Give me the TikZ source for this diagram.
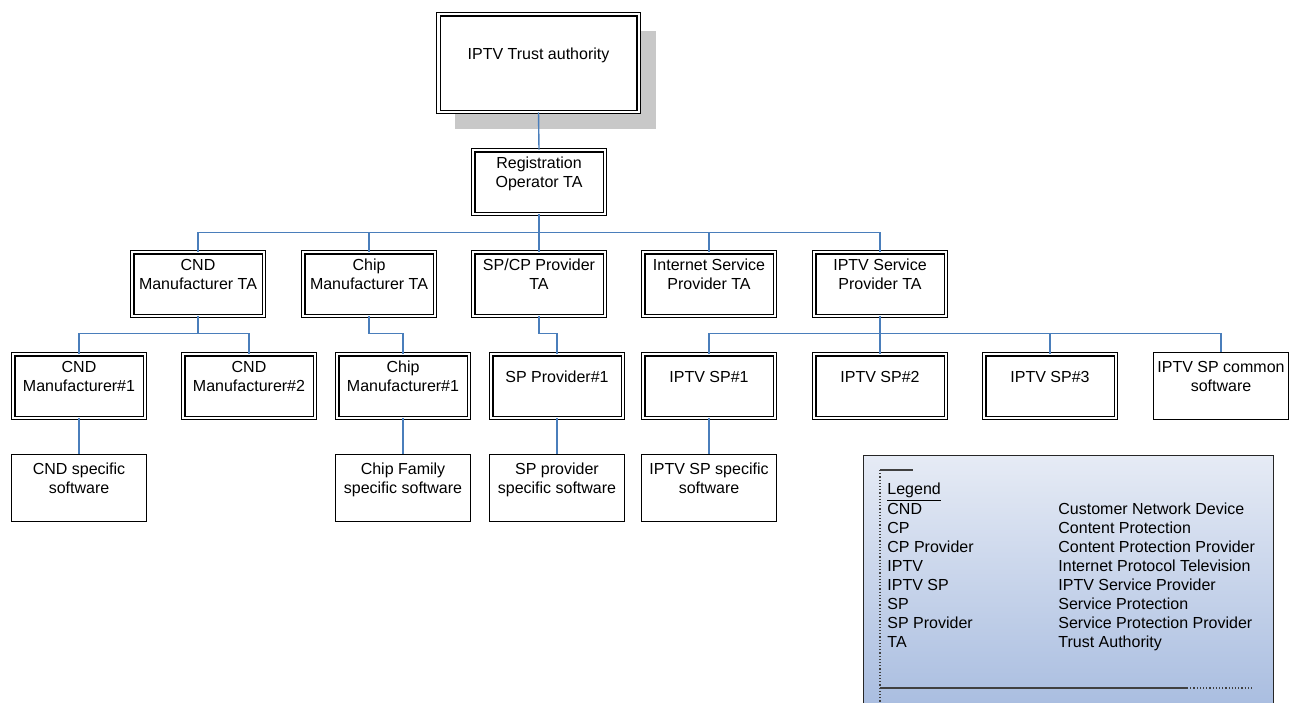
\documentclass[tikz,border=0pt]{standalone}
\usepackage{fontspec}
\setmainfont{Liberation Sans}
\usetikzlibrary{shadows,calc}
\definecolor{connblue}{HTML}{4A7EBB}
\definecolor{shadowgray}{HTML}{C8C8C8}
\definecolor{legtop}{HTML}{E6EBF5}
\definecolor{legbot}{HTML}{A6BBDF}
\definecolor{legline}{HTML}{404040}
\newcommand{\blankline}{\mbox{}}
\tikzset{
  txtf/.style={font=\fontsize{8}{9.5}\selectfont, align=center},
  dblbox/.style={txtf, draw, double, double distance=1.2pt, line width=0.55pt, minimum width=65.8pt, minimum height=31.8pt, inner sep=1pt, fill=white},
  sglbox/.style={txtf, draw, line width=0.6pt, minimum width=67.4pt, minimum height=33.4pt, inner sep=1pt, fill=white},
  conn/.style={draw=connblue, line width=0.7pt},
}
\begin{document}
\begin{tikzpicture}[x=0.5pt,y=-0.5pt]
\useasboundingbox (0,0) rectangle (1293,702);
% legend
\node[draw=black!85, line width=0.7pt, top color=legtop, bottom color=legbot, minimum width=205pt, minimum height=132pt, inner sep=0pt, anchor=north west] (legend) at (863,455) {};
\draw[legline, line width=0.6pt] (880,470) -- (913,470);
\draw[legline, line width=0.6pt, densely dotted] (880,470) -- (880,702);
\draw[legline, line width=0.7pt] (880,688) -- (1187,688);
\draw[legline, line width=0.6pt, densely dotted] (1187,688) -- (1254,688);
\node[anchor=north west, inner sep=0pt, font=\fontsize{8}{9.5}\selectfont] (legtext) at (887,480.5) {%
\begin{tabular}{@{}p{85.5pt}@{}l@{}}
\underline{Legend} & \\
CND & Customer Network Device\\
CP & Content Protection\\
CP Provider & Content Protection Provider\\
IPTV & Internet Protocol Television\\
IPTV SP & IPTV Service Provider\\
SP & Service Protection\\
SP Provider & Service Protection Provider\\
TA & Trust Authority
\end{tabular}};
% top
\node[dblbox, minimum width=100.2pt, minimum height=48.8pt, drop shadow={shadow xshift=8.5pt, shadow yshift=-8.5pt, fill=shadowgray, opacity=1}] (top) at (538.5,63) {IPTV Trust authority\\\blankline};
\node[dblbox] (reg) at (539,182) {Registration\\Operator TA\\\blankline};
% level 2
\node[dblbox] (cndta) at (198,284) {CND\\Manufacturer TA\\\blankline};
\node[dblbox] (chipta) at (369,284) {Chip\\Manufacturer TA\\\blankline};
\node[dblbox] (spcpta) at (539,284) {SP/CP Provider\\TA\\\blankline};
\node[dblbox] (ispta) at (709,284) {Internet Service\\Provider TA\\\blankline};
\node[dblbox] (iptvta) at (880,284) {IPTV Service\\Provider TA\\\blankline};
% level 3
\node[dblbox] (cnd1) at (79,386) {CND\\Manufacturer\#1\\\blankline};
\node[dblbox] (cnd2) at (249,386) {CND\\Manufacturer\#2\\\blankline};
\node[dblbox] (chip1) at (403,386) {Chip\\Manufacturer\#1\\\blankline};
\node[dblbox] (sp1) at (557,386) {SP Provider\#1\\\blankline};
\node[dblbox] (iptv1) at (709,386) {IPTV SP\#1\\\blankline};
\node[dblbox] (iptv2) at (880,386) {IPTV SP\#2\\\blankline};
\node[dblbox] (iptv3) at (1050,386) {IPTV SP\#3\\\blankline};
\node[sglbox] (iptvc) at (1221,386) {IPTV SP common\\software\\\blankline};
% level 4
\node[sglbox] (cndsw) at (79,488) {CND specific\\software\\\blankline};
\node[sglbox] (chipsw) at (403,488) {Chip Family\\specific software\\\blankline};
\node[sglbox] (spsw) at (557,488) {SP provider\\specific software\\\blankline};
\node[sglbox] (iptvsw) at (709,488) {IPTV SP specific\\software\\\blankline};
% connectors
\draw[conn] (top.south) -- (reg.north);
\foreach \n in {cndta,chipta,spcpta,ispta,iptvta}
  \draw[conn] (reg.south) -- ++(0,18) -| (\n.north);
\foreach \n in {cnd1,cnd2}
  \draw[conn] (cndta.south) -- ++(0,17) -| (\n.north);
\draw[conn] (chipta.south) -- ++(0,17) -| (chip1.north);
\draw[conn] (spcpta.south) -- ++(0,17) -| (sp1.north);
\foreach \n in {iptv1,iptv2,iptv3,iptvc}
  \draw[conn] (iptvta.south) -- ++(0,17) -| (\n.north);
\draw[conn] (cnd1.south) -- (cndsw.north);
\draw[conn] (chip1.south) -- (chipsw.north);
\draw[conn] (sp1.south) -- (spsw.north);
\draw[conn] (iptv1.south) -- (iptvsw.north);
\end{tikzpicture}
\end{document}
